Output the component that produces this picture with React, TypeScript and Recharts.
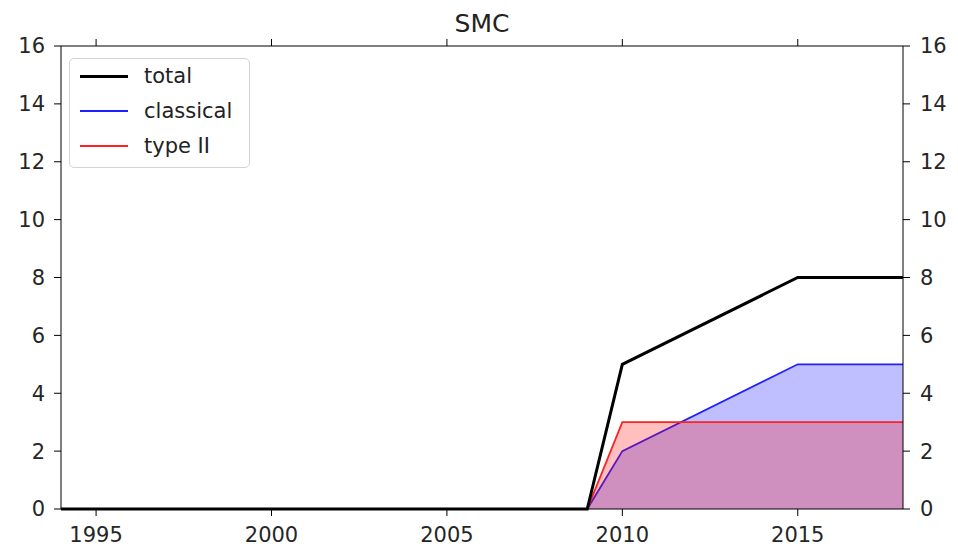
import { ComposedChart, Area, Line, XAxis, YAxis } from "recharts"

// yearly counts, SMC
const years = [1994, 2009, 2010, 2015, 2018]
const total = [0, 0, 5, 8, 8]
const classical = [0, 0, 2, 5, 5]
const typeII = [0, 0, 3, 3, 3]

const xTicks = [1995, 2000, 2005, 2010, 2015]
const yTicks = [0, 2, 4, 6, 8, 10, 12, 14, 16]

const data = years.map((year, i) => ({
  year,
  total: total[i],
  classical: classical[i],
  typeII: typeII[i],
}))

const FONT = "'DejaVu Sans', sans-serif"
const tickStyle = { fill: "#262626", fontSize: 21, fontFamily: FONT }

const legendItems = [
  { label: "total", color: "#000000", width: 3 },
  { label: "classical", color: "#2020ff", width: 2 },
  { label: "type II", color: "#ff2020", width: 2 },
]

function LegendBox() {
  return (
    <div
      style={{
        position: "absolute",
        left: 69,
        top: 58,
        width: 181,
        height: 110,
        boxSizing: "border-box",
        border: "1px solid #d4d4d4",
        borderRadius: 5,
        background: "rgba(255,255,255,0.8)",
        fontFamily: FONT,
        fontSize: 21,
        color: "#222",
      }}
    >
      {legendItems.map((item, i) => (
        <div
          key={item.label}
          style={{
            position: "absolute",
            top: 2 + i * 35,
            left: 0,
            height: 30,
            display: "flex",
            alignItems: "center",
          }}
        >
          <div style={{ marginLeft: 10, width: 48, height: item.width, background: item.color }} />
          <span style={{ marginLeft: 16, whiteSpace: "nowrap" }}>{item.label}</span>
        </div>
      ))}
    </div>
  )
}

// top axis: tick marks only, no labels
const NoLabel = () => <g />

export default function App() {
  return (
    <div style={{ position: "absolute", left: 0, top: 0, width: 958, height: 546, background: "#fff" }}>
      <ComposedChart
        width={958}
        height={546}
        data={data}
        margin={{ top: 45, right: 0, bottom: 0, left: 0 }}
      >
        <XAxis
          xAxisId="bottom"
          dataKey="year"
          type="number"
          domain={[1994, 2018]}
          ticks={xTicks}
          allowDataOverflow
          height={37}
          tick={tickStyle}
          tickSize={7}
          tickMargin={11}
          stroke="#000"
        />
        <XAxis
          xAxisId="top"
          orientation="top"
          dataKey="year"
          type="number"
          domain={[1994, 2018]}
          ticks={xTicks}
          allowDataOverflow
          height={1}
          tick={NoLabel}
          tickSize={7}
          stroke="#000"
        />
        <YAxis
          yAxisId="left"
          domain={[0, 16]}
          ticks={yTicks}
          width={61}
          tick={tickStyle}
          tickSize={7}
          tickMargin={9}
          stroke="#000"
          interval={0}
        />
        <YAxis
          yAxisId="right"
          orientation="right"
          domain={[0, 16]}
          ticks={yTicks}
          width={55}
          tick={tickStyle}
          tickSize={7}
          tickMargin={10}
          stroke="#000"
          interval={0}
        />
        {/* invisible series so the top and right axes get drawn */}
        <Line
          xAxisId="top"
          yAxisId="right"
          dataKey="total"
          stroke="none"
          dot={false}
          activeDot={false}
          legendType="none"
          isAnimationActive={false}
        />
        <Line
          xAxisId="bottom"
          yAxisId="left"
          type="linear"
          dataKey="total"
          stroke="#000"
          strokeWidth={3}
          dot={false}
          isAnimationActive={false}
        />
        <Area
          xAxisId="bottom"
          yAxisId="left"
          type="linear"
          dataKey="classical"
          stroke="#2020ff"
          strokeWidth={1.8}
          fill="#0000ff"
          fillOpacity={0.25}
          isAnimationActive={false}
        />
        <Area
          xAxisId="bottom"
          yAxisId="left"
          type="linear"
          dataKey="typeII"
          stroke="#ff2020"
          strokeWidth={1.8}
          fill="#ff0000"
          fillOpacity={0.25}
          isAnimationActive={false}
        />
      </ComposedChart>
      <div
        style={{
          position: "absolute",
          left: 61,
          width: 842,
          top: 11,
          lineHeight: 1,
          textAlign: "center",
          fontFamily: FONT,
          fontSize: 25,
          color: "#222",
        }}
      >
        SMC
      </div>
      <LegendBox />
    </div>
  )
}
